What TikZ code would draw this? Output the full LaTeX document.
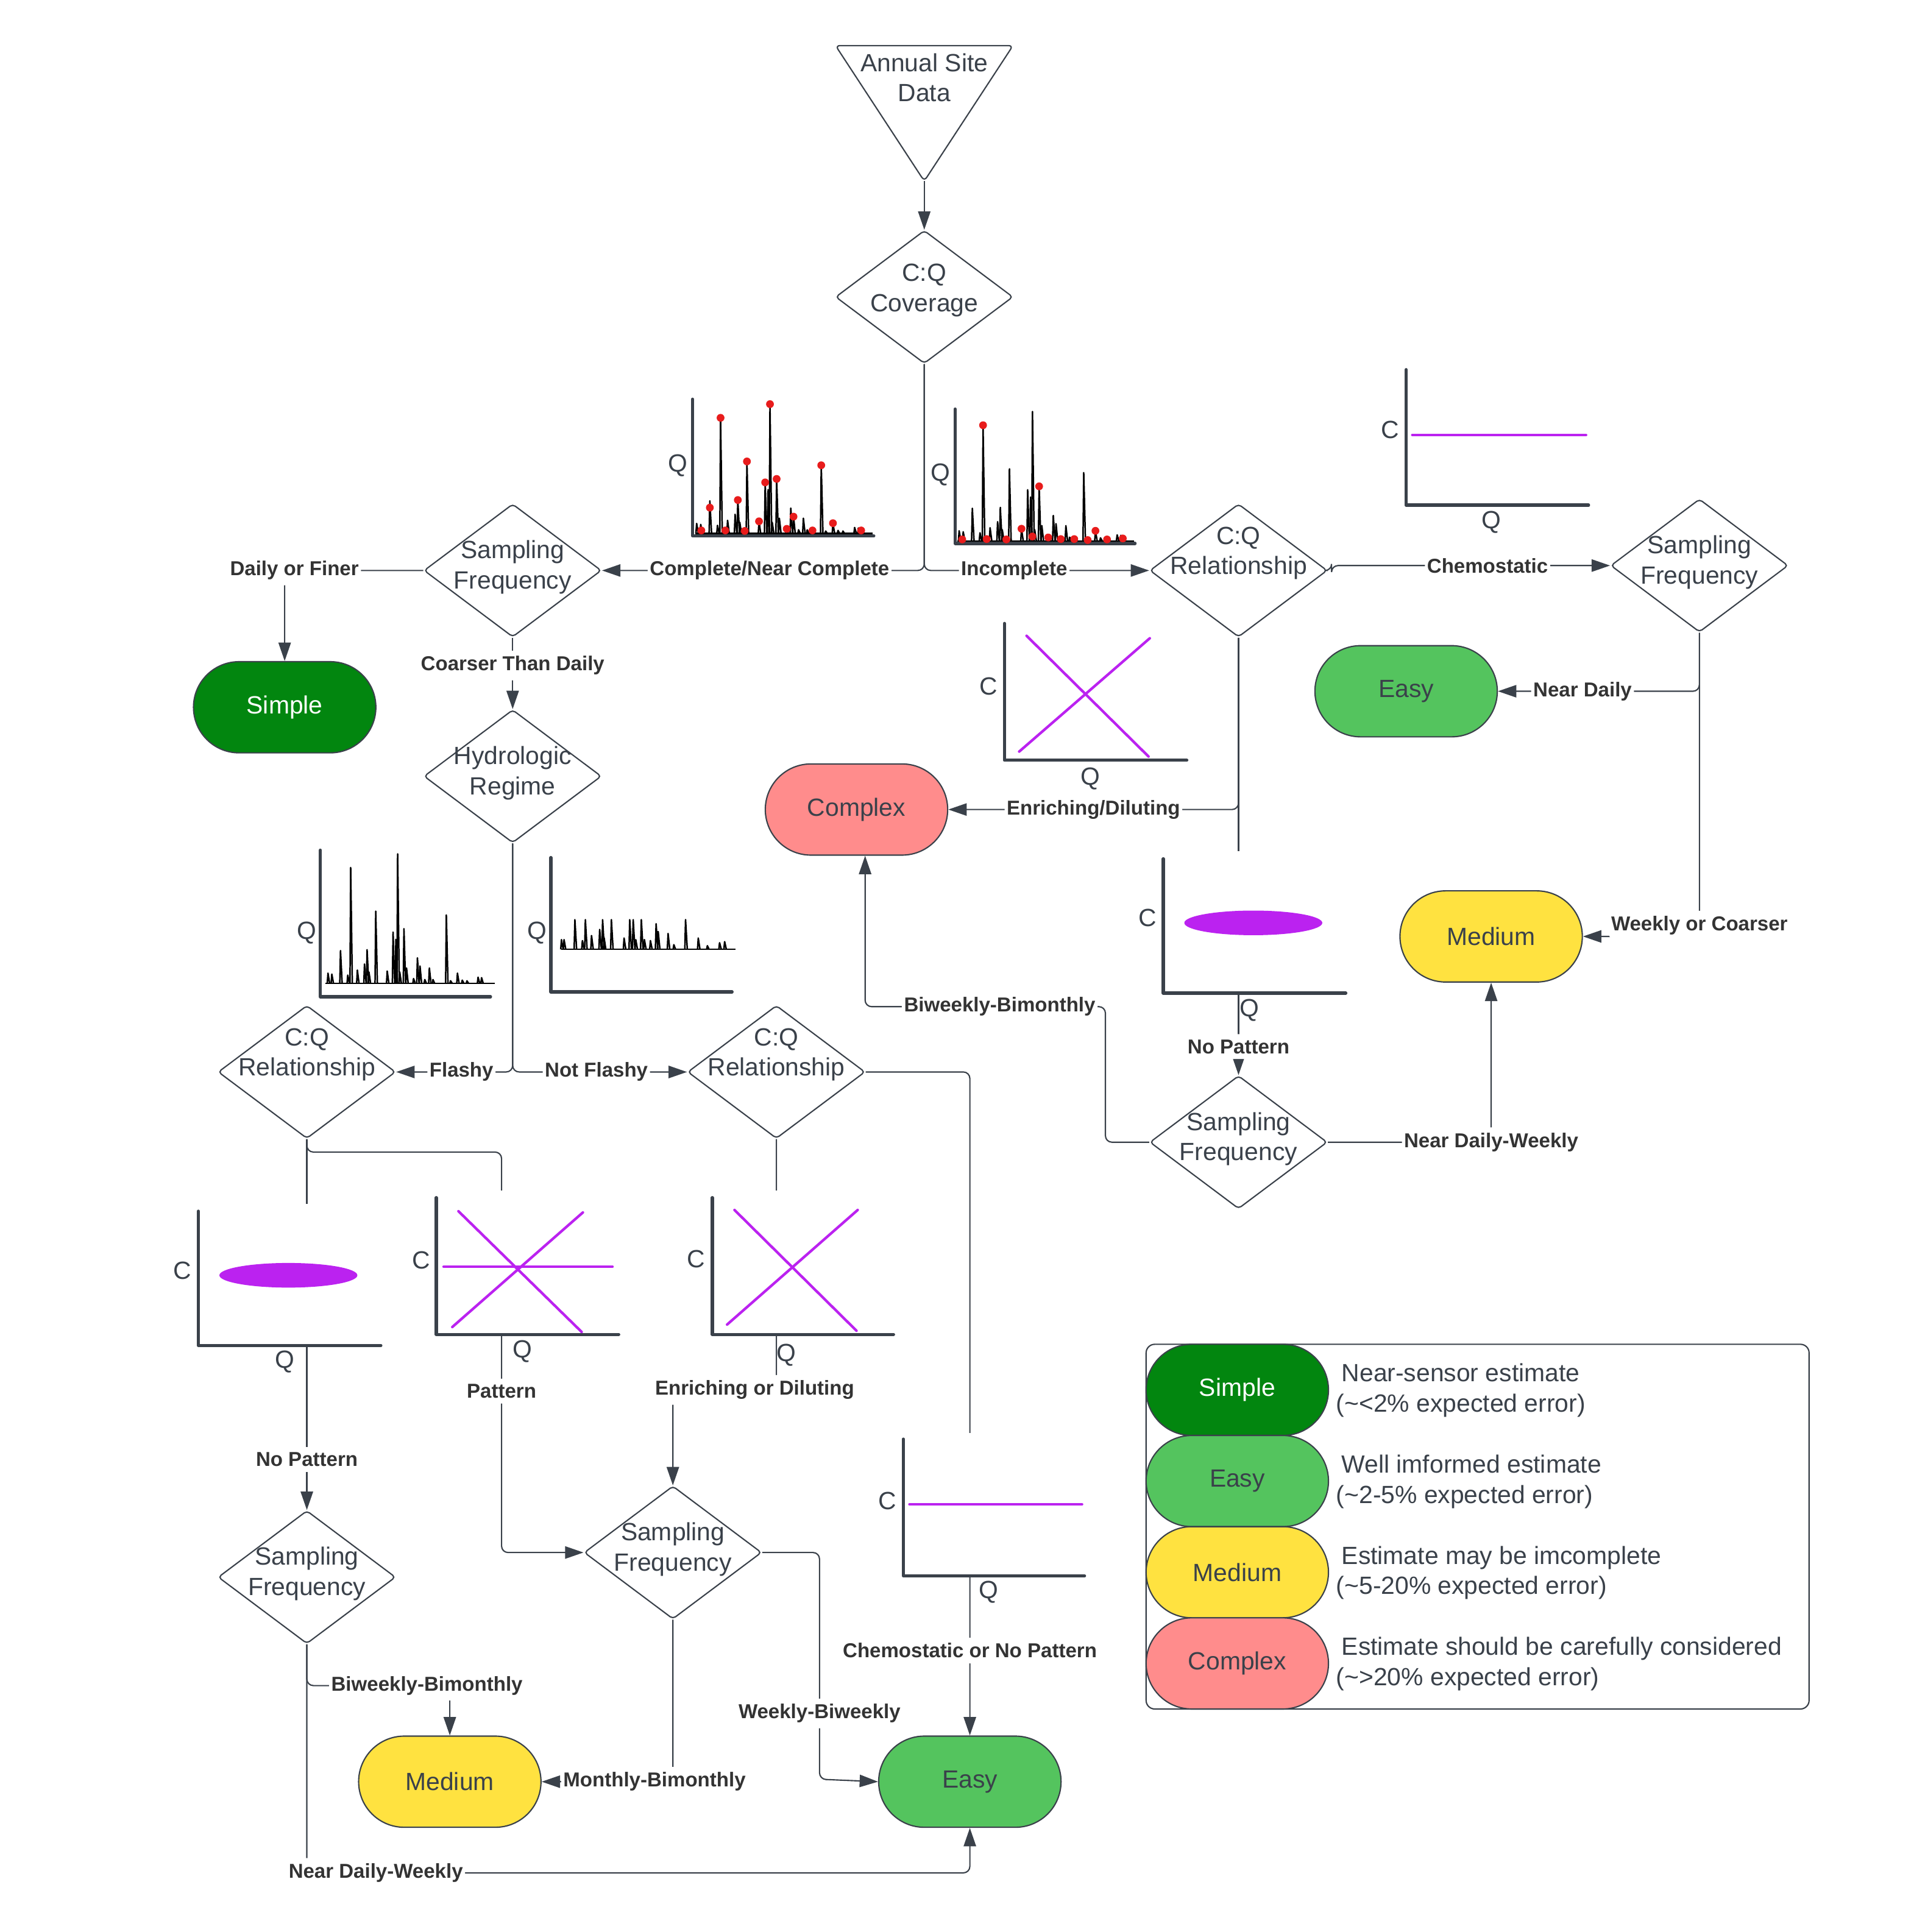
\documentclass[tikz,border=0pt]{standalone}
\usepackage{fontspec}
\setmainfont{Liberation Sans}
\usetikzlibrary{shapes.geometric,shapes.misc,arrows.meta}

\definecolor{ink}{HTML}{3A414A}
\definecolor{lblink}{HTML}{333333}
\definecolor{simplegreen}{HTML}{02860F}
\definecolor{easygreen}{HTML}{54C45E}
\definecolor{medyellow}{HTML}{FFE240}
\definecolor{cplxred}{HTML}{FF8C8C}
\definecolor{cqpurple}{HTML}{BB22F0}
\definecolor{dotred}{HTML}{E81C1C}

% spike lists (x offset / height) for the hydrographs
\newcommand{\flowspikes}{3.3/8.2, 6.6/7.4, 14.0/26.5, 20.2/6.6, 22.7/93.9, 28.4/10.7, 34.5/15.6, 36.7/27.2, 38.3/9.1, 44.1/58.5, 53.9/9.9, 58.9/41.5, 61.3/35.6, 62.8/105, 64.6/9.1, 68.2/44.3, 70.4/12.4, 76.4/3.8, 79.7/20.6, 81.9/14, 86/3, 89.9/12.4, 93/3, 104.4/55.4, 108/2, 113.9/8.2, 118/2.5, 122/2, 131.5/4.9, 134.5/4.5}
\newcommand{\dotsH}{7.1/2.5, 14/21, 22.7/93.9, 26.6/2.5, 36.7/27.2, 42.3/2.1, 44.1/58.5, 53.9/9.9, 58.9/41.5, 62.8/105, 68.2/44.3, 76.4/3.8, 81.9/13.7, 97.3/2.5, 104.4/55.4, 113.9/8.4, 136.8/2.5}
\newcommand{\dotsG}{5.8/1.2, 22.7/93.9, 25.6/1.5, 41.6/1.2, 53.9/9.9, 62.7/3.6, 68.2/44.3, 75.6/2.8, 85.8/1.5, 96.7/1.5, 107.6/0.7, 113.9/8.2, 123.3/1.2, 136.1/2}
\newcommand{\calmspikes}{8.6/7.9, 10.7/7.9, 19.5/24.1, 25.6/7.1, 28.0/24.1, 33.0/11.2, 39.6/16.2, 42.0/24.1, 43.2/9.5, 49.1/24.1, 59.4/9.2, 64.0/24.1, 66.8/24.1, 68.9/7.9, 73.4/24.1, 75.9/7.9, 80.8/7.1, 85.4/20.8, 87.1/14.5, 95.1/12.9, 99.8/3.8, 109.3/24.1, 119.6/9.2, 127/3, 136.9/5.4, 141/6.3}

\tikzset{
  txt/.style={font=\fontsize{11.5}{14}\selectfont, text=ink, align=center},
  decision/.style={diamond, draw=ink, fill=white, line width=0.6pt, aspect=1.333,
    minimum width=2.88cm, minimum height=2.16cm, inner sep=0pt, rounded corners=1.5pt},
  outcome/.style={rounded rectangle, draw=ink, line width=0.6pt, minimum width=2.96cm,
    minimum height=1.48cm, inner sep=0pt, txt},
  conn/.style={draw=ink, line width=0.6pt, rounded corners=3pt},
  arr/.style={conn, -{Triangle[length=8.5pt,width=5.7pt]}},
  lbl/.style={font=\fontsize{9.3}{11}\selectfont\bfseries, text=lblink, fill=white,
    inner xsep=1pt, inner ysep=2.5pt},
  axis/.style={draw=ink, line width=1.5pt, line cap=round, line join=round},
  axlbl/.style={txt, inner sep=0pt},
  spike/.style={draw=black, line width=0.7pt, line join=round},
  trend/.style={draw=cqpurple, line width=1.2pt, line cap=round},
}

\begin{document}
\begin{tikzpicture}[x=0.02cm, y=-0.02cm]
\useasboundingbox (0,0) rectangle (1562,1568);

% start
\draw[draw=ink, line width=0.6pt, rounded corners=2pt] (678,37) -- (822,37) -- (750,147) -- cycle;
\node[txt] (site) at (750,63) {Annual Site\\Data};
\coordinate (sitetip) at (750,147);

% decisions
\node[decision, label={[txt,yshift=3pt]center:{C:Q\\Coverage}}] (cov) at (750,241) {};
\node[decision, label={[txt,yshift=1.5pt]center:{Sampling\\Frequency}}] (sf1) at (416,463) {};
\node[decision, label={[txt,yshift=1.5pt]center:{Hydrologic\\Regime}}] (hr) at (416,630) {};
\node[decision, label={[txt,yshift=8pt]center:{C:Q\\Relationship}}] (cqr1) at (249,870) {};
\node[decision, label={[txt,yshift=8pt]center:{C:Q\\Relationship}}] (cqr2) at (630,870) {};
\node[decision, label={[txt,yshift=8pt]center:{C:Q\\Relationship}}] (cqr3) at (1005,463) {};
\node[decision, label={[txt,yshift=1.5pt]center:{Sampling\\Frequency}}] (sf2) at (1379,459) {};
\node[decision, label={[txt,yshift=1.5pt]center:{Sampling\\Frequency}}] (sf3) at (1005,927) {};
\node[decision, label={[txt,yshift=1.5pt]center:{Sampling\\Frequency}}] (sf4) at (249,1280) {};
\node[decision, label={[txt,yshift=1.5pt]center:{Sampling\\Frequency}}] (sf5) at (546,1260) {};

% outcomes
\node[outcome, fill=simplegreen, text=white] (simple1) at (231,574) {Simple};
\node[outcome, fill=easygreen] (easy1) at (1141,561) {Easy};
\node[outcome, fill=medyellow] (med1) at (1210,760) {Medium};
\node[outcome, fill=cplxred] (cplx) at (695,657) {Complex};
\node[outcome, fill=medyellow] (med2) at (365,1446) {Medium};
\node[outcome, fill=easygreen] (easy2) at (787,1446) {Easy};

% connectors
\draw[arr] (sitetip) -- (cov.north);
\draw[arr] (cov.south) |- node[lbl,pos=0.74]{Complete/Near Complete} (sf1.east);
\draw[arr] (cov.south) |- node[lbl,pos=0.70]{Incomplete} (cqr3.west);
\draw[arr] (sf1.west) -| node[lbl,pos=0.5,xshift=4.5pt]{Daily or Finer} (simple1.north);
\draw[arr] (sf1.south) -- node[lbl,pos=0.39]{Coarser Than Daily} (hr.north);
\draw[arr] (hr.south) |- node[lbl,pos=0.72]{Flashy} (cqr1.east);
\draw[arr] (hr.south) |- node[lbl,pos=0.74]{Not Flashy} (cqr2.west);
\draw[arr] (cqr1.south) -- node[lbl,pos=0.864]{No Pattern} (sf4.north);
\draw[arr] (cqr1.south) -- (249,935) -- (407,935) -- node[lbl,pos=0.597]{Pattern} (407,1260) -- (sf5.west);
\draw[arr] (cqr2.south) -- (630,1128) -- node[lbl,pos=0.21]{Enriching or Diluting} (546,1128) -- (sf5.north);
\draw[arr] (cqr2.east) -- (787,870) -- node[lbl,pos=0.872]{Chemostatic or No Pattern} (easy2.north);
\draw[arr] (sf4.south) -- (249,1368) -- node[lbl,pos=0.84]{Biweekly-Bimonthly} (365,1368) -- (med2.north);
\draw[arr] (sf4.south) -- (249,1520) -- node[lbl,pos=0.104]{Near Daily-Weekly} (787,1520) -- (easy2.south);
\draw[arr] (sf5.south) |- node[lbl,pos=0.57]{Monthly-Bimonthly} (med2.east);
\draw[arr] (sf5.east) -- (665,1260) -- node[lbl,pos=0.71]{Weekly-Biweekly} (665,1444) -- (easy2.west);
\draw[arr] (cqr3.east) -- ++(3,0) |- node[lbl,pos=0.78]{Chemostatic} (sf2.west);
\draw[arr] (sf2.south) |- node[lbl,pos=0.79]{Near Daily} (easy1.east);
\draw[arr] (sf2.south) |- node[lbl,pos=0.5,yshift=5pt]{Weekly or Coarser} (med1.east);
\draw[arr] (cqr3.south) |- node[lbl,pos=0.75]{Enriching/Diluting} (cplx.east);
\draw[arr] (cqr3.south) -- node[lbl,pos=0.935]{No Pattern} (sf3.north);
\draw[arr] (sf3.east) -| node[lbl,pos=0.5]{Near Daily-Weekly} (med1.south);
\draw[arr] (sf3.west) -| (897,817) -- node[lbl,pos=0.44]{Biweekly-Bimonthly} (702,817) -- (702,0 |- cplx.south);

% hydrograph, complete coverage
\draw[axis] (562,324) -- (562,435) -- (709,435);
\begin{scope}[shift={(562,433)}]
  \draw[spike] (2,0) -- (146,0);
  \foreach \x/\h in \flowspikes \draw[spike] (\x-0.6,0) -- (\x,-\h) -- (\x+1.4,0);
  \foreach \x/\h in \dotsH \fill[dotred] (\x,-\h) circle (1.8pt);
\end{scope}

% hydrograph, incomplete coverage
\draw[axis] (775,332) -- (775,441) -- (921,441);
\begin{scope}[shift={(775,439)}]
  \draw[spike] (2,0) -- (145,0);
  \foreach \x/\h in \flowspikes \draw[spike] (\x-0.6,0) -- (\x,-\h) -- (\x+1.4,0);
  \foreach \x/\h in \dotsG \fill[dotred] (\x,-\h) circle (1.8pt);
\end{scope}

% flashy
\draw[axis] (260,690) -- (260,809) -- (398,809);
\begin{scope}[shift={(263,798)}, xscale=0.95]
  \draw[spike] (1,0) -- (146,0);
  \foreach \x/\h in \flowspikes \draw[spike] (\x-0.6,0) -- (\x,-\h) -- (\x+1.4,0);
\end{scope}

% not flashy
\draw[axis] (447,696) -- (447,805) -- (594,805);
\begin{scope}[shift={(447,770.5)}]
  \draw[spike] (8.6,0) -- (150,0);
  \foreach \x/\h in \calmspikes \draw[spike] (\x-0.6,0) -- (\x,-\h) -- (\x+1.4,0);
\end{scope}

% chemostatic, top right
\draw[axis] (1141,300) -- (1141,410) -- (1289,410);
\draw[trend] (1146,353) -- (1287,353);

% enriching/diluting, right
\draw[axis] (815,506) -- (815,617) -- (963,617);
\draw[trend] (833,516) -- (932,614);
\draw[trend] (827,610) -- (933,518);

% no pattern, right
\fill[white] (937,691) rectangle (1096,806);
\draw[axis] (944,697) -- (944,806) -- (1092,806);
\fill[cqpurple] (1017,749) ellipse [x radius=1.12cm, y radius=0.2cm];

% no pattern, left
\fill[white] (156,977) rectangle (313,1092);
\draw[axis] (161,983) -- (161,1092) -- (309,1092);
\fill[cqpurple] (234,1035) ellipse [x radius=1.12cm, y radius=0.2cm];

% pattern
\fill[white] (349,966) rectangle (506,1083);
\draw[axis] (354,972) -- (354,1083) -- (502,1083);
\draw[trend] (372,983) -- (472,1081);
\draw[trend] (367,1077) -- (473,984);
\draw[trend] (360,1028) -- (497,1028);

% enriching or diluting, middle
\fill[white] (573,966) rectangle (729,1083);
\draw[axis] (578,972) -- (578,1083) -- (725,1083);
\draw[trend] (596,982) -- (695,1080);
\draw[trend] (590,1075) -- (696,982);

% chemostatic, bottom
\fill[white] (728,1163) rectangle (884,1279);
\draw[axis] (733,1168) -- (733,1279) -- (880,1279);
\draw[trend] (738,1221) -- (878,1221);

% axis letters
\foreach \nm/\px/\py in {H/550/378, G/763/385, A/249/757, B/436/757, I/1210/424, K/885/632, J/1014/820, C/231/1105, D/424/1097, E/638/1100, F/802/1292}
  \node[axlbl] (q\nm) at (\px,\py) {Q};
\foreach \nm/\px/\py in {I/1128/349, K/802/557, J/931/745, C/148/1031, D/342/1023, E/565/1022, F/720/1218}
  \node[axlbl] (c\nm) at (\px,\py) {C};

% legend
\draw[draw=ink, line width=0.6pt, rounded corners=4pt] (930,1091) rectangle (1468,1387);
\node[outcome, fill=simplegreen, text=white] (keysimple) at (1004,1128) {Simple};
\node[outcome, fill=easygreen] (keyeasy) at (1004,1202) {Easy};
\node[outcome, fill=medyellow] (keymed) at (1004,1276) {Medium};
\node[outcome, fill=cplxred] (keycplx) at (1004,1350) {Complex};
\node[txt, align=left, anchor=west, inner sep=0pt] (keysimpletxt) at (1084,1128.5) {\hspace*{2.5pt}Near-sensor estimate\\(\textasciitilde<2\% expected error)};
\node[txt, align=left, anchor=west, inner sep=0pt] (keyeasytxt) at (1084,1202.5) {\hspace*{2.5pt}Well imformed estimate\\(\textasciitilde2-5\% expected error)};
\node[txt, align=left, anchor=west, inner sep=0pt] (keymedtxt) at (1084,1276.5) {\hspace*{2.5pt}Estimate may be imcomplete\\(\textasciitilde5-20\% expected error)};
\node[txt, align=left, anchor=west, inner sep=0pt] (keycplxtxt) at (1084,1350.5) {\hspace*{2.5pt}Estimate should be carefully considered\\(\textasciitilde>20\% expected error)};
\end{tikzpicture}
\end{document}
